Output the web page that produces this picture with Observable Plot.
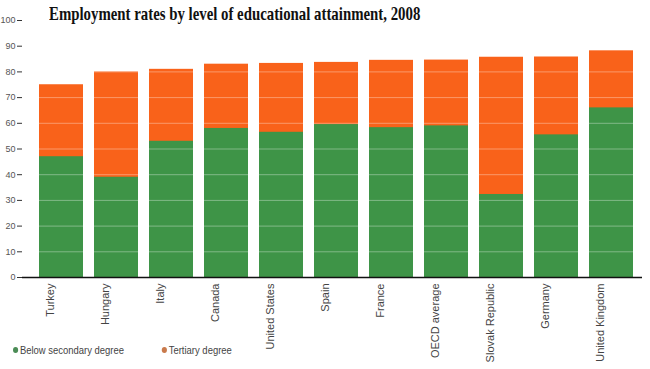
<!DOCTYPE html>
<html><head><meta charset="utf-8">
<script src="https://cdn.jsdelivr.net/npm/d3@7"></script>
<script src="https://cdn.jsdelivr.net/npm/@observablehq/plot@0.6"></script>
<style>
body{margin:0;background:#fff;font-family:"Liberation Sans",Arial,sans-serif;}
#wrap{position:relative;width:650px;height:369px;overflow:hidden;}
#title{position:absolute;left:49px;top:3px;font-family:"Liberation Serif","Times New Roman",serif;font-weight:bold;font-size:19px;color:#111;white-space:nowrap;transform-origin:0 0;transform:scaleX(0.78);}
#legend{position:absolute;left:13px;top:344px;font-size:11px;color:#444;white-space:nowrap;transform-origin:0 0;transform:scaleX(0.86);}
#legend span.item{display:inline-block;margin-right:44px;}
#legend i{display:inline-block;width:6px;height:6px;border-radius:50%;margin-right:2px;vertical-align:1px;}
</style></head>
<body><div id="wrap"><div id="chart"></div><div id="title">Employment rates by level of educational attainment, 2008</div><div id="legend"></div></div>
<script>
const countries = ["Turkey","Hungary","Italy","Canada","United States","Spain","France","OECD average","Slovak Republic","Germany","United Kingdom"];
const belowSecondary = [47, 39, 53, 58, 56.5, 59.5, 58.3, 59, 32.3, 55.5, 66];
const tertiary = [75, 80, 81, 83, 83.3, 83.7, 84.5, 84.6, 85.7, 85.8, 88.2];
const yTicks = [0,10,20,30,40,50,60,70,80,90,100];
const seriesNames = ["Below secondary degree","Tertiary degree"];
const colors = ["#3e9447","#f9621a"];
const legendColors = ["#4b8c56","#c97a4c"];

const data = countries.map((c,i)=>({country:c, below:belowSecondary[i], tertiary:tertiary[i]}));

const chart = Plot.plot({
  width: 650, height: 369,
  marginLeft: 22, marginRight: 10, marginTop: 20, marginBottom: 92,
  style: {fontFamily: "'Liberation Sans', Arial, sans-serif", background: "transparent"},
  x: {domain: countries, padding: 0.2, paddingOuter: 0.1, insetLeft: 10, label: null},
  y: {domain: [0,100], label: null},
  marks: [
    Plot.barY(data, {x: "country", y: "tertiary", fill: colors[1]}),
    Plot.barY(data, {x: "country", y: "below", fill: colors[0]}),
    Plot.ruleY(yTicks.slice(1), {stroke: "#fff", strokeOpacity: 0.35, strokeWidth: 1}),
    Plot.ruleY([0], {stroke: "#111", strokeWidth: 1.5, insetLeft: 0, insetRight: -2}),
    Plot.axisY({ticks: yTicks, tickSize: 5, tickPadding: 2, fontSize: 9, color: "#555", stroke: "#333", label: null}),
    Plot.axisX({tickSize: 0, tickRotate: -90, tickPadding: 6, fontSize: 11, fill: "#444", dx: -11, label: null})
  ]
});
document.getElementById("chart").appendChild(chart);
const leg = document.getElementById("legend");
seriesNames.forEach((n,i)=>{
  const s = document.createElement("span"); s.className="item";
  const d = document.createElement("i"); d.style.background = legendColors[i];
  s.appendChild(d); s.appendChild(document.createTextNode(n)); leg.appendChild(s);
});
</script></body></html>
